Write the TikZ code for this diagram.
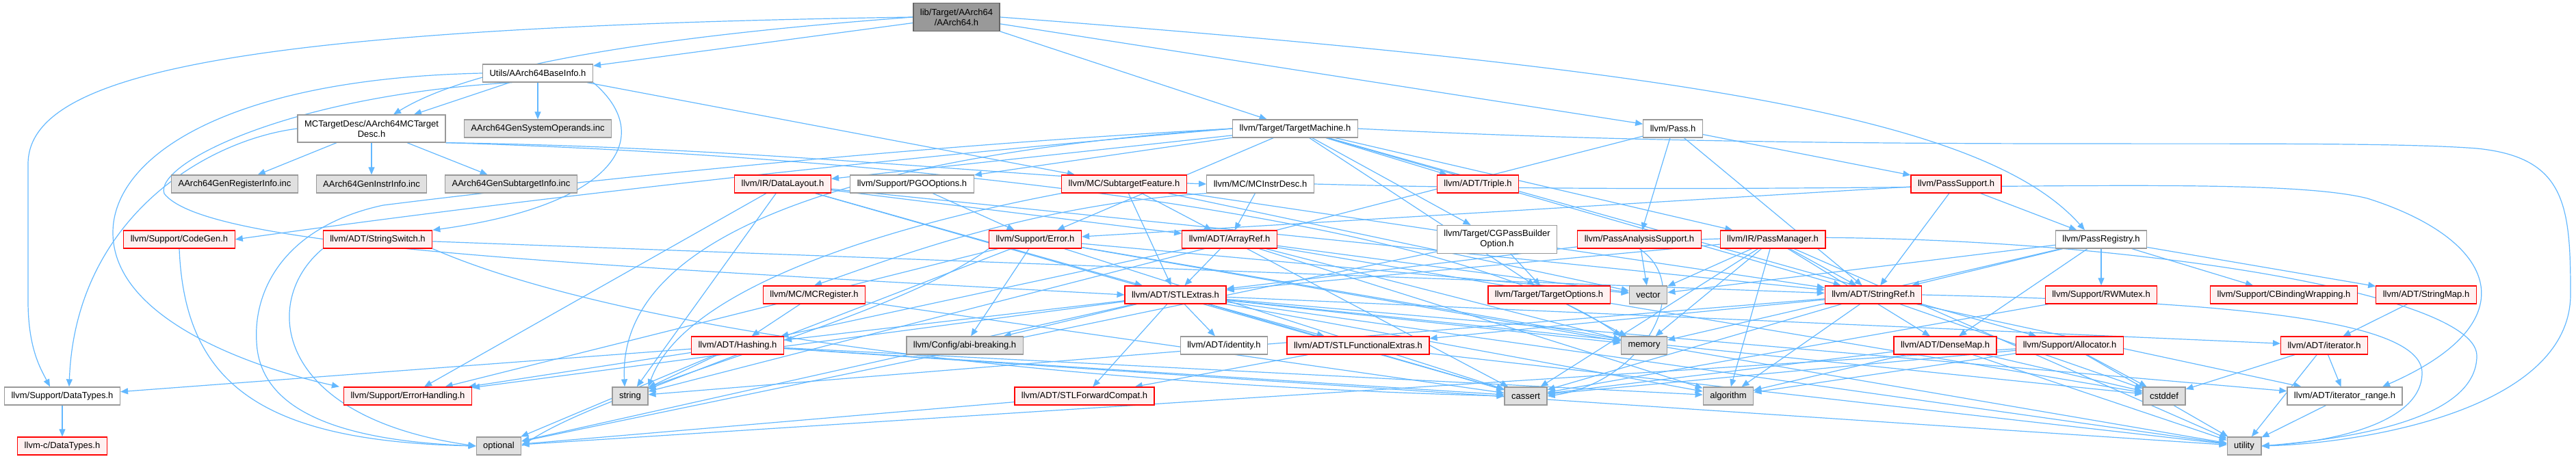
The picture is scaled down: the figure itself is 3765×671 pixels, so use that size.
\documentclass[tikz,border=0pt]{standalone}
\usepackage{fontspec}
\setmainfont{Liberation Sans}
\usepackage{xcolor}
\usepackage{tikz}
\usetikzlibrary{arrows.meta,calc}
\definecolor{edgeBlue}{HTML}{63B8FF}
\definecolor{hdrLine}{HTML}{999999}
\definecolor{rootFill}{HTML}{999999}
\definecolor{rootLine}{HTML}{666666}
\definecolor{truncLine}{HTML}{FF0000}
\definecolor{truncFill}{HTML}{FFF0F0}
\definecolor{sysFill}{HTML}{E0E0E0}
\pgfdeclarelayer{edges}
\pgfsetlayers{edges,main}

\begin{document}
\begin{tikzpicture}[x=1pt,y=-1pt,
      every node/.style={font=\fontsize{13}{15}\selectfont,inner xsep=10pt,inner ysep=3pt,
        minimum height=26pt,line width=1.3pt,align=center},
      hdr/.style={draw=hdrLine,fill=white},
      trunc/.style={draw=truncLine,fill=truncFill},
      sys/.style={draw=hdrLine,fill=sysFill},
      top/.style={draw=rootLine,fill=rootFill,minimum height=41pt},
      arrow/.style={-{Triangle[length=11pt,width=9pt]},line width=1.2pt,draw=edgeBlue}]
    \useasboundingbox (0,0) rectangle (3765,671);
    % rows from top to bottom
    \node[top] (root) at (1398,25) {lib/Target/AArch64\\/AArch64.h};
    \node[hdr] (utils) at (786,107) {Utils/AArch64BaseInfo.h};
    \node[hdr,minimum height=40pt] (mcdesc) at (543,188) {MCTargetDesc/AArch64MCTarget\\Desc.h};
    \node[sys] (sysops) at (786,188) {AArch64GenSystemOperands.inc};
    \node[hdr] (tmach) at (1893,188) {llvm/Target/TargetMachine.h};
    \node[hdr] (pass) at (2445,188) {llvm/Pass.h};
    \node[sys] (reginfo) at (343,269) {AArch64GenRegisterInfo.inc};
    \node[sys] (instrinfo) at (543,269) {AArch64GenInstrInfo.inc};
    \node[sys] (subinfo) at (747,269) {AArch64GenSubtargetInfo.inc};
    \node[trunc] (datalayout) at (1144,269) {llvm/IR/DataLayout.h};
    \node[hdr] (pgo) at (1333,269) {llvm/Support/PGOOptions.h};
    \node[trunc] (subfeat) at (1643,269) {llvm/MC/SubtargetFeature.h};
    \node[hdr] (instrdesc) at (1842,269) {llvm/MC/MCInstrDesc.h};
    \node[trunc] (triple) at (2160,269) {llvm/ADT/Triple.h};
    \node[trunc] (passsup) at (2859,269) {llvm/PassSupport.h};
    \node[trunc] (codegen) at (262,350) {llvm/Support/CodeGen.h};
    \node[trunc] (strswitch) at (552,350) {llvm/ADT/StringSwitch.h};
    \node[trunc] (error) at (1513,350) {llvm/Support/Error.h};
    \node[trunc] (arrayref) at (1797,350) {llvm/ADT/ArrayRef.h};
    \node[hdr,minimum height=41pt] (cgpass) at (2188,350) {llvm/Target/CGPassBuilder\\Option.h};
    \node[trunc] (passana) at (2396,350) {llvm/PassAnalysisSupport.h};
    \node[trunc] (passmgr) at (2591,350) {llvm/IR/PassManager.h};
    \node[hdr] (passreg) at (3071,350) {llvm/PassRegistry.h};
    \node[trunc] (mcreg) at (1190,431) {llvm/MC/MCRegister.h};
    \node[trunc] (stlextras) at (1718,431) {llvm/ADT/STLExtras.h};
    \node[trunc] (targetopt) at (2264,431) {llvm/Target/TargetOptions.h};
    \node[sys] (vector) at (2409,431) {vector};
    \node[trunc] (strref) at (2738,431) {llvm/ADT/StringRef.h};
    \node[trunc] (rwmutex) at (3071,431) {llvm/Support/RWMutex.h};
    \node[trunc] (cbind) at (3338,431) {llvm/Support/CBindingWrapping.h};
    \node[trunc] (strmap) at (3546,431) {llvm/ADT/StringMap.h};
    \node[trunc] (hashing) at (1078,505) {llvm/ADT/Hashing.h};
    \node[sys] (abi) at (1410,505) {llvm/Config/abi-breaking.h};
    \node[hdr] (identity) at (1789,505) {llvm/ADT/identity.h};
    \node[trunc] (stlfunc) at (1985,505) {llvm/ADT/STLFunctionalExtras.h};
    \node[sys] (memory) at (2403,505) {memory};
    \node[trunc] (densemap) at (2843,505) {llvm/ADT/DenseMap.h};
    \node[trunc] (allocator) at (3025,505) {llvm/Support/Allocator.h};
    \node[trunc] (iterator) at (3397,505) {llvm/ADT/iterator.h};
    \node[hdr] (datatypes) at (91,579) {llvm/Support/DataTypes.h};
    \node[trunc] (errhand) at (596,579) {llvm/Support/ErrorHandling.h};
    \node[sys] (string) at (921,579) {string};
    \node[trunc] (stlfwd) at (1585,579) {llvm/ADT/STLForwardCompat.h};
    \node[sys] (cassert) at (2230,579) {cassert};
    \node[sys] (algorithm) at (2526,579) {algorithm};
    \node[sys] (cstddef) at (3163,579) {cstddef};
    \node[hdr] (itrange) at (3427,579) {llvm/ADT/iterator\_range.h};
    \node[trunc] (cdatatypes) at (91,652) {llvm-c/DataTypes.h};
    \node[sys] (optional) at (729,652) {optional};
    \node[sys] (utility) at (3280,652) {utility};

    \begin{pgfonlayer}{edges}
    \foreach \src/\dst in {root/utils,root/pass,root/tmach,
        utils/mcdesc,utils/sysops,utils/subfeat,
        mcdesc/reginfo,mcdesc/instrinfo,mcdesc/subinfo,
        tmach/strref,tmach/datalayout,tmach/passmgr,tmach/allocator,tmach/error,tmach/pgo,
        tmach/cgpass,tmach/targetopt,tmach/triple,
        pass/passana,pass/passsup,pass/strref,pass/string,
        passsup/passreg,passsup/strref,passsup/error,
        passana/vector,passana/stlextras,
        passmgr/densemap,passmgr/stlextras,passmgr/strref,passmgr/cassert,passmgr/memory,
        passmgr/vector,passmgr/algorithm,passmgr/utility,
        passreg/densemap,passreg/strmap,passreg/strref,passreg/cbind,passreg/rwmutex,
        passreg/memory,passreg/vector,
        datalayout/arrayref,datalayout/stlextras,datalayout/strref,datalayout/errhand,
        datalayout/cassert,datalayout/string,
        subfeat/arrayref,subfeat/stlextras,subfeat/strref,subfeat/vector,
        instrdesc/arrayref,
        error/abi,error/errhand,error/string,error/cassert,error/memory,
        error/vector,error/utility,
        arrayref/hashing,arrayref/stlextras,arrayref/vector,arrayref/memory,arrayref/algorithm,
        arrayref/cstddef,arrayref/cassert,
        strref/stlfunc,strref/itrange,strref/algorithm,strref/cassert,strref/cstddef,strref/string,
        stlextras/hashing,stlextras/stlfwd,stlextras/stlfunc,stlextras/identity,stlextras/iterator,
        stlextras/itrange,stlextras/abi,stlextras/errhand,stlextras/algorithm,stlextras/cassert,
        stlextras/cstddef,stlextras/memory,stlextras/optional,stlextras/utility,
        hashing/datatypes,hashing/errhand,hashing/string,hashing/optional,hashing/algorithm,
        hashing/cassert,hashing/utility,
        mcreg/hashing,mcreg/cassert,strswitch/strref,
        targetopt/memory,cgpass/targetopt,cgpass/optional,pgo/error,
        densemap/algorithm,densemap/cassert,densemap/cstddef,densemap/utility,
        allocator/algorithm,allocator/cassert,allocator/cstddef,allocator/optional,allocator/utility,
        stlfunc/stlfwd,stlfunc/utility,stlfwd/optional,
        iterator/itrange,iterator/cstddef,iterator/utility,itrange/utility,
        strmap/iterator,rwmutex/cassert,datatypes/cdatatypes}
      \draw[arrow] (\src) -- (\dst);
    % edges routed round the other boxes
    \draw[arrow] (root.west) .. controls (330,40) and (41,110) .. (41,240) -- (41,440)
      .. controls (41,510) and (60,540) .. ([xshift=-18pt]datatypes.north);
    \draw[arrow] (root.east) .. controls (2450,100) and (2900,170) .. ([xshift=-24pt]passreg.north);
    \draw[arrow] (root.west) .. controls (1000,50) and (700,90) .. ([xshift=32pt]mcdesc.north);
    \draw[arrow] (utils.south east) .. controls (960,200) and (900,300) .. (strswitch.north east);
    \draw[arrow] (utils.west) .. controls (330,115) and (165,230) .. (165,340)
      .. controls (165,470) and (380,540) .. ([xshift=-6pt]errhand.north west);
    \draw[arrow] (utils.200) .. controls (420,140) and (225,240) .. (240,283)
      .. controls (300,360) and (800,385) .. (stlextras.west);
    \draw[arrow] (mcdesc.west) .. controls (300,205) and (110,320) .. ([xshift=10pt]datatypes.north);
    \draw[arrow] (mcdesc.south east) .. controls (1200,225) and (2100,300) .. (memory.north west);
    \draw[arrow] (mcdesc.south east) .. controls (1100,215) and (1500,260) .. (instrdesc.west);
    \draw[arrow] (tmach.east) .. controls (2700,225) and (3400,200) .. (3620,217)
      .. controls (3750,230) and (3757,300) .. (3757,430)
      .. controls (3757,600) and (3450,648) .. (utility.east);
    \draw[arrow] (tmach.west) .. controls (1300,215) and (800,270) .. (560,300)
      .. controls (420,330) and (370,420) .. (375,500)
      .. controls (380,610) and (520,645) .. (optional.west);
    \draw[arrow] (tmach.west) .. controls (1200,240) and (700,300) .. (codegen.east);
    \draw[arrow] (tmach.west) .. controls (1400,215) and (900,300) .. ([xshift=-8pt]string.north);
    \draw[arrow] (instrdesc.east) .. controls (2700,290) and (3300,250) .. (3460,290)
      .. controls (3650,350) and (3700,470) .. ([xshift=55pt]itrange.north);
    \draw[arrow] (instrdesc.south west) .. controls (1500,300) and (1300,380) .. (mcreg.north);
    \draw[arrow] (subfeat.south west) .. controls (1300,330) and (1000,420) .. (string.north east);
    \draw[arrow] (error.south west) .. controls (1300,470) and (900,560) .. (optional.east);
    \draw[arrow] (strswitch.south east) .. controls (900,480) and (1500,560) .. (cassert.west);
    \draw[arrow] (passana.south) .. controls (2480,420) and (2400,560) .. (cassert.east);
    \draw[arrow] (passana.east) .. controls (3000,330) and (3620,420) .. (3620,520)
      .. controls (3620,610) and (3450,640) .. (utility.east);
    \draw[arrow] (strref.east) .. controls (3200,440) and (3540,460) .. (3540,545)
      .. controls (3540,615) and (3420,645) .. (utility.east);
    \draw[arrow] (codegen.south) .. controls (270,560) and (380,645) .. (optional.west);
    \draw[arrow] (strswitch.south west) .. controls (380,440) and (400,610) .. (optional.west);
    \end{pgfonlayer}
  \end{tikzpicture}
\end{document}
